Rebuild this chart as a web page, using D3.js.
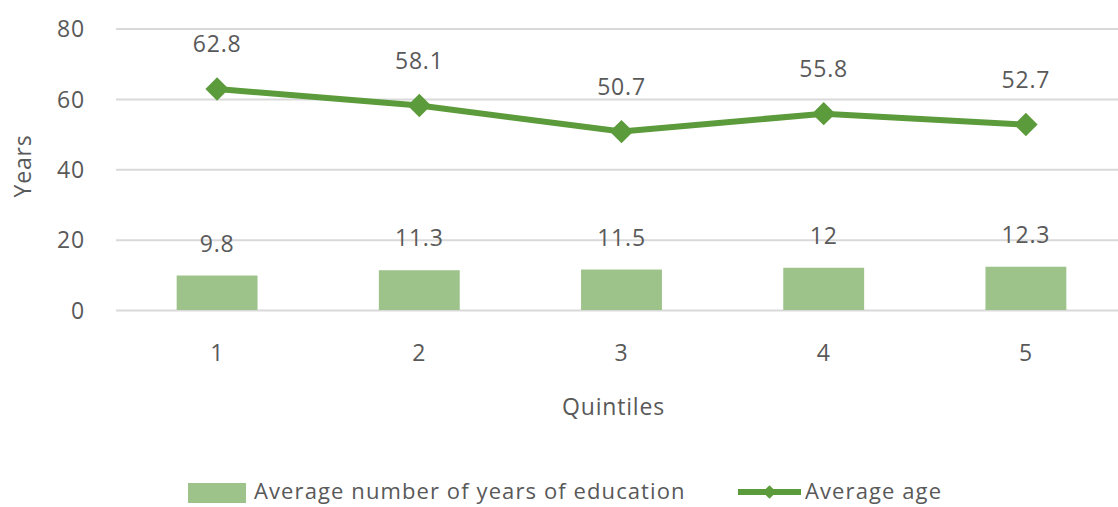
<!DOCTYPE html>
<html>
<head>
<meta charset="utf-8">
<script src="https://cdn.jsdelivr.net/npm/d3@7"></script>
<style>
  html, body { margin: 0; padding: 0; background: #fff; }
  svg text { font-family: "Open Sans", "Noto Sans", sans-serif; fill: #595959; letter-spacing: 0.8px; }
</style>
</head>
<body>
<svg id="chart" width="1118" height="507"></svg>
<script>
// Quintile categories and the two series plotted against them
const quintiles = ["1", "2", "3", "4", "5"];
const educationYears = [9.8, 11.3, 11.5, 12, 12.3];
const averageAge = [62.8, 58.1, 50.7, 55.8, 52.7];
const yTicks = [0, 20, 40, 60, 80];
const educationLabels = ["9.8", "11.3", "11.5", "12", "12.3"];
const ageLabels = ["62.8", "58.1", "50.7", "55.8", "52.7"];

const svg = d3.select("#chart");
const barColor = "#9dc38b";
const lineColor = "#5c9b3b";
const gridColor = "#d9d9d9";

const plot = { left: 116, right: 1127, top: 28.5, bottom: 310 };

const x = d3.scaleBand()
  .domain(quintiles)
  .range([plot.left, plot.right])
  .paddingInner(0.6)
  .paddingOuter(0.3);

const y = d3.scaleLinear()
  .domain([0, 80])
  .range([plot.bottom, plot.top]);

// Horizontal gridlines with value ticks on the left
const yAxis = d3.axisLeft(y)
  .tickValues(yTicks)
  .tickSize(-(plot.right - plot.left))
  .tickPadding(31)
  .tickFormat(d3.format("d"));

const gy = svg.append("g")
  .attr("transform", `translate(${plot.left},0)`)
  .call(yAxis);
gy.select(".domain").remove();
gy.selectAll(".tick line").attr("stroke", gridColor).attr("stroke-width", 2);
gy.selectAll(".tick text")
  .attr("font-size", 23)
  .attr("fill", "#595959")
  .attr("dy", "0.36em");

// Category labels along the bottom
const xAxis = d3.axisBottom(x).tickSize(0).tickPadding(35);
const gx = svg.append("g")
  .attr("transform", `translate(0,${plot.bottom})`)
  .call(xAxis);
gx.select(".domain").remove();
gx.selectAll(".tick text").attr("font-size", 23).attr("fill", "#595959");

// Bars: average years of education
svg.append("g").selectAll("rect")
  .data(educationYears)
  .join("rect")
  .attr("x", (d, i) => x(quintiles[i]))
  .attr("width", x.bandwidth())
  .attr("y", d => y(d))
  .attr("height", d => y(0) - y(d))
  .attr("fill", barColor);

svg.append("g").selectAll("text")
  .data(educationYears)
  .join("text")
  .attr("x", (d, i) => x(quintiles[i]) + x.bandwidth() / 2)
  .attr("y", d => y(d) - 24)
  .attr("text-anchor", "middle")
  .attr("font-size", 23)
  .text((d, i) => educationLabels[i]);

// Line with diamond markers: average age
const cx = i => x(quintiles[i]) + x.bandwidth() / 2;
const line = d3.line()
  .x((d, i) => cx(i))
  .y(d => y(d));

svg.append("path")
  .datum(averageAge)
  .attr("d", line)
  .attr("fill", "none")
  .attr("stroke", lineColor)
  .attr("stroke-width", 6)
  .attr("stroke-linejoin", "round");

const diamond = d3.symbol().type(d3.symbolDiamond2).size(350);
svg.append("g").selectAll("path")
  .data(averageAge)
  .join("path")
  .attr("transform", (d, i) => `translate(${cx(i)},${y(d)})`)
  .attr("d", diamond)
  .attr("fill", lineColor);

svg.append("g").selectAll("text")
  .data(averageAge)
  .join("text")
  .attr("x", (d, i) => cx(i))
  .attr("y", d => y(d) - 37)
  .attr("text-anchor", "middle")
  .attr("font-size", 23)
  .text((d, i) => ageLabels[i]);

// Axis titles
svg.append("text")
  .attr("x", (plot.left + plot.right) / 2 - 8)
  .attr("y", 415)
  .attr("text-anchor", "middle")
  .attr("font-size", 23)
  .text("Quintiles");

svg.append("text")
  .attr("transform", "translate(31,166) rotate(-90)")
  .attr("text-anchor", "middle")
  .attr("font-size", 23)
  .text("Years");

// Legend
const legend = svg.append("g");
legend.append("rect")
  .attr("x", 188).attr("y", 483)
  .attr("width", 58).attr("height", 20)
  .attr("fill", barColor);
legend.append("text")
  .attr("x", 254).attr("y", 491).attr("dy", "0.36em")
  .attr("font-size", 22)
  .style("letter-spacing", "1.1px")
  .text("Average number of years of education");

legend.append("line")
  .attr("x1", 738).attr("x2", 801)
  .attr("y1", 492).attr("y2", 492)
  .attr("stroke", lineColor).attr("stroke-width", 6);
legend.append("path")
  .attr("transform", "translate(769.5,492)")
  .attr("d", d3.symbol().type(d3.symbolDiamond2).size(120))
  .attr("fill", lineColor);
legend.append("text")
  .attr("x", 805).attr("y", 491).attr("dy", "0.36em")
  .attr("font-size", 22)
  .style("letter-spacing", "1.1px")
  .text("Average age");
</script>
</body>
</html>
